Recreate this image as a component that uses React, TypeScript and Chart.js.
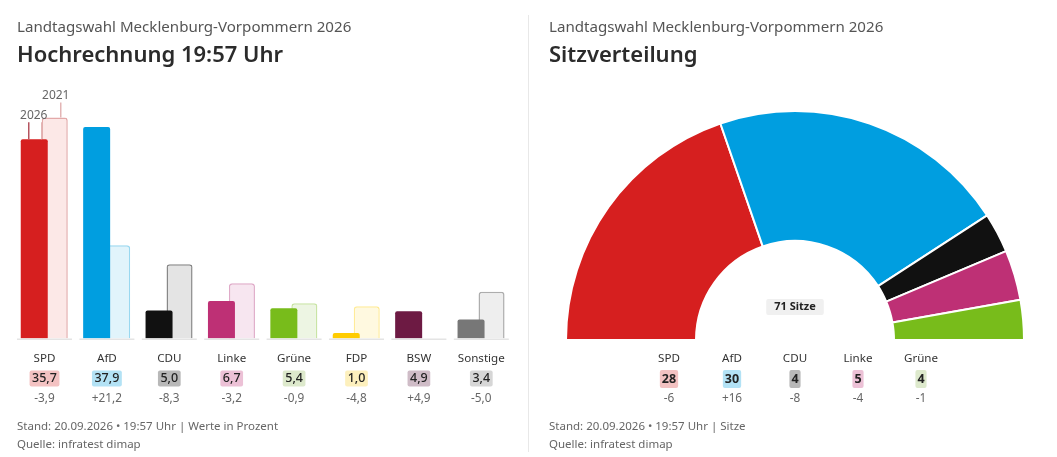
import { useEffect, useRef } from "react"
import { Chart, registerables } from "chart.js"

Chart.register(...registerables)

const FONT = '"Noto Sans", sans-serif'
Chart.defaults.font.family = FONT

const parties = ["SPD", "AfD", "CDU", "Linke", "Grüne", "FDP", "BSW", "Sonstige"]
const result2026 = [35.7, 37.9, 5.0, 6.7, 5.4, 1.0, 4.9, 3.4]
const result2021 = [39.6, 16.7, 13.3, 9.9, 6.3, 5.8, 0, 8.4]
const resultLabels = ["35,7", "37,9", "5,0", "6,7", "5,4", "1,0", "4,9", "3,4"]
const resultChanges = ["-3,9", "+21,2", "-8,3", "-3,2", "-0,9", "-4,8", "+4,9", "-5,0"]

const seatParties = ["SPD", "AfD", "CDU", "Linke", "Grüne"]
const seats = [28, 30, 4, 5, 4]
const seatChanges = ["-6", "+16", "-8", "-4", "-1"]

const colors = ["#d61f1f", "#009ee0", "#111111", "#be3075", "#78bc1b", "#ffcc00", "#6d1a43", "#777777"]
const oldFill = ["#fce8e7", "#e1f4fb", "#e4e4e4", "#f7e6f0", "#edf5e3", "#fff9e0", "#f0dfe6", "#eeeeee"]
const oldBorder = ["#e3a9a9", "#99d8f0", "#888888", "#dfaac8", "#c9e4a5", "#ffeb99", "#d9c3cf", "#adadad"]
const pillColors = ["#f3c2c2", "#b3e2f5", "#b8b8b8", "#ecc1d6", "#dde9cc", "#fdf0bd", "#cfbcc7", "#d6d6d6"]

const NAME_Y = 358.5
const CHANGE_Y = 398.5

function drawPill(ctx: CanvasRenderingContext2D, text: string, x: number, y: number, h: number, pad: number, bg: string, font: string) {
  ctx.font = font
  const w = ctx.measureText(text).width + pad
  ctx.fillStyle = bg
  ctx.beginPath()
  ctx.roundRect(x - w / 2, y - h / 2, w, h, 2)
  ctx.fill()
  ctx.fillStyle = "#222222"
  ctx.fillText(text, x, y)
}

function drawChange(ctx: CanvasRenderingContext2D, text: string, x: number) {
  ctx.font = `11.8px ${FONT}`
  ctx.fillStyle = "#666666"
  ctx.fillText(text, x, CHANGE_Y)
}

const barRows = {
  id: "barRows",
  afterDraw(chart: any) {
    const { ctx, scales } = chart
    const { x, y } = scales
    ctx.save()
    ctx.textAlign = "center"
    ctx.textBaseline = "middle"
    // kleine Grundlinie unter jeder Gruppe
    ctx.strokeStyle = "#e4e4e4"
    ctx.lineWidth = 1.5
    parties.forEach((_, i) => {
      const px = x.getPixelForValue(i)
      ctx.beginPath()
      ctx.moveTo(px - 27.5, y.bottom + 0.75)
      ctx.lineTo(px + 27.5, y.bottom + 0.75)
      ctx.stroke()
      drawPill(ctx, resultLabels[i], px, 378.5, 16, 5, pillColors[i], `500 12.5px ${FONT}`)
      drawChange(ctx, resultChanges[i], px)
    })

    // Jahresmarken an der ersten Gruppe
    const newBar = chart.getDatasetMeta(0).data[0]
    const oldBar = chart.getDatasetMeta(1).data[0]
    ctx.lineWidth = 1.5
    ctx.strokeStyle = "#b5545f"
    ctx.beginPath()
    ctx.moveTo(newBar.x - 5.5, newBar.y)
    ctx.lineTo(newBar.x - 5.5, newBar.y - 17)
    ctx.stroke()
    ctx.strokeStyle = "#e3b5b5"
    ctx.beginPath()
    ctx.moveTo(newBar.x + 7.5, newBar.y)
    ctx.lineTo(newBar.x + 7.5, newBar.y - 17)
    ctx.moveTo(oldBar.x + 6, oldBar.y)
    ctx.lineTo(oldBar.x + 6, oldBar.y - 15)
    ctx.stroke()
    ctx.font = `12px ${FONT}`
    ctx.fillStyle = "#666666"
    ctx.fillText("2026", newBar.x - 0.5, newBar.y - 23.5)
    ctx.fillText("2021", oldBar.x + 1, oldBar.y - 22)
    ctx.restore()
  },
}

const seatRows = {
  id: "seatRows",
  afterDraw(chart: any) {
    const { ctx } = chart
    const cx = chart.getDatasetMeta(0).data[0].x
    ctx.save()
    ctx.textAlign = "center"
    ctx.textBaseline = "middle"
    seatParties.forEach((name, i) => {
      const px = cx + (i - 2) * 63
      ctx.font = `11.6px ${FONT}`
      ctx.fillStyle = "#333333"
      ctx.fillText(name, px, NAME_Y)
      drawPill(ctx, String(seats[i]), px, 379, 18, 4, pillColors[i], `700 12.5px ${FONT}`)
      drawChange(ctx, seatChanges[i], px)
    })
    drawPill(ctx, "71 Sitze", cx, 307, 16, 16, "#f0f0f0", `700 11px ${FONT}`)
    ctx.restore()
  },
}

function ResultChart() {
  const ref = useRef<HTMLCanvasElement | null>(null)

  useEffect(() => {
    if (!ref.current) return
    const chart = new Chart(ref.current, {
      type: "bar",
      data: {
        labels: parties,
        datasets: [
          {
            label: "2026",
            data: result2026,
            backgroundColor: colors,
            borderRadius: { topLeft: 2, topRight: 2 },
            borderSkipped: false,
            barPercentage: 1.317,
          },
          {
            label: "2021",
            data: result2021,
            backgroundColor: oldFill,
            borderColor: oldBorder,
            borderWidth: { top: 1.5, left: 1.5, right: 1.5, bottom: 0 },
            borderRadius: { topLeft: 3, topRight: 3 },
            borderSkipped: false,
            barPercentage: 1.27,
          },
        ],
      },
      options: {
        responsive: false,
        animation: false,
        categoryPercentage: 0.657,
        layout: { padding: { left: 13.3, right: 15.5, top: 115.3, bottom: 0 } },
        scales: {
          x: {
            grid: { display: false, drawTicks: false },
            border: { display: false },
            ticks: { padding: 13, color: "#333333", font: { size: 11.6 }, maxRotation: 0, autoSkip: false },
            afterFit: (scale: any) => {
              scale.height = 118.5
            },
          },
          y: { display: false, min: 0, max: 40 },
        },
        plugins: { legend: { display: false }, tooltip: { enabled: false } },
      } as any,
      plugins: [barRows],
    })
    return () => chart.destroy()
  }, [])

  return <canvas ref={ref} width={528} height={457} style={{ position: "absolute", left: 0, top: 0 }} />
}

function SeatChart() {
  const ref = useRef<HTMLCanvasElement | null>(null)

  useEffect(() => {
    if (!ref.current) return
    const chart = new Chart(ref.current, {
      type: "doughnut",
      data: {
        labels: seatParties,
        datasets: [{ data: seats, backgroundColor: colors.slice(0, 5), borderColor: "#ffffff", borderWidth: 2 }],
      },
      options: {
        responsive: false,
        animation: false,
        rotation: -90,
        circumference: 180,
        radius: 229,
        cutout: "43.23%",
        layout: { padding: { left: 3, bottom: 6 } },
        plugins: { legend: { display: false }, tooltip: { enabled: false } },
      } as any,
      plugins: [seatRows],
    })
    return () => chart.destroy()
  }, [])

  return <canvas ref={ref} width={527} height={457} style={{ position: "absolute", left: 530, top: 0 }} />
}

function Text(props: { x: number; y: number; size: number; color: string; weight?: number; children: string }) {
  return (
    <div
      style={{
        position: "absolute",
        left: props.x,
        top: props.y,
        transform: "translateY(-50%)",
        fontFamily: FONT,
        fontSize: props.size,
        fontWeight: props.weight ?? 400,
        color: props.color,
        whiteSpace: "nowrap",
      }}
    >
      {props.children}
    </div>
  )
}

export default function App() {
  return (
    <div style={{ position: "absolute", left: 0, top: 0, width: 1057, height: 457, overflow: "hidden", background: "#fff" }}>
      <ResultChart />
      <SeatChart />
      <div style={{ position: "absolute", left: 528, top: 15, width: 1, height: 437, background: "#e8e8e8" }} />
      <Text x={17} y={26} size={15.1} color="#555555">Landtagswahl Mecklenburg-Vorpommern 2026</Text>
      <Text x={17} y={53} size={22} color="#2b2b2b" weight={600}>Hochrechnung 19:57 Uhr</Text>
      <Text x={17} y={425} size={11.5} color="#666666">Stand: 20.09.2026 • 19:57 Uhr | Werte in Prozent</Text>
      <Text x={17} y={443} size={11.5} color="#666666">Quelle: infratest dimap</Text>
      <Text x={549} y={26} size={15.1} color="#555555">Landtagswahl Mecklenburg-Vorpommern 2026</Text>
      <Text x={549} y={53} size={22} color="#2b2b2b" weight={600}>Sitzverteilung</Text>
      <Text x={549} y={425} size={11.5} color="#666666">Stand: 20.09.2026 • 19:57 Uhr | Sitze</Text>
      <Text x={549} y={443} size={11.5} color="#666666">Quelle: infratest dimap</Text>
    </div>
  )
}
